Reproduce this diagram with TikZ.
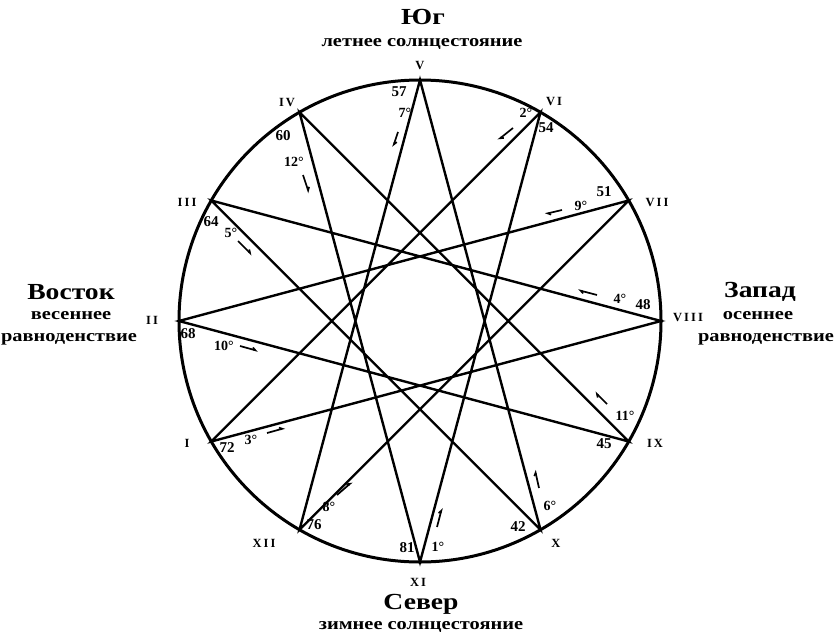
\documentclass[tikz,border=0pt]{standalone}
\usepackage{fontspec}
\setmainfont{Liberation Serif}
\newfontfamily\lblfont[FakeStretch=1.2]{Liberation Serif}
\usetikzlibrary{arrows.meta,calc}
\begin{document}
\begin{tikzpicture}[x=1pt,y=-1pt,
  star/.style={line width=2.4pt, line join=miter},
  rim/.style={line width=3pt},
  roman/.style={font=\fontsize{12.5}{12.5}\selectfont\bfseries, inner sep=0pt},
  num/.style={font=\fontsize{15}{15}\selectfont\bfseries, inner sep=0pt},
  deg/.style={font=\fontsize{14}{14}\selectfont\bfseries, inner sep=0pt},
  head/.style={font=\lblfont\fontsize{23}{23}\selectfont\bfseries, inner sep=0pt},
  sub/.style={font=\lblfont\fontsize{17}{17}\selectfont\bfseries, inner sep=0pt},
  harp/.style={line width=1.7pt, -{Straight Barb[left,length=3pt,width=4pt]}}]
\useasboundingbox (0,0) rectangle (837,637);
\coordinate (c) at (420,321);
\draw[rim] (c) circle[radius=241];
\foreach \n/\a in {V/-90, VI/-60, VII/-30, VIII/0, IX/30, X/60, XI/90, XII/120, I/150, II/180, III/210, IV/240}
  \coordinate (p\n) at ($(c)+(\a:241)$);
\draw[star] (pXI) -- (pVI) -- (pI) -- (pVIII) -- (pIII) -- (pX) -- (pV) -- (pXII) -- (pVII) -- (pII) -- (pIX) -- (pIV) -- cycle;

% roman numerals
\node[roman] (rV) at (420,66) {V};
\node[roman] (rVI) at (554,102) {V\,I};
\node[roman] (rVII) at (657,202) {V\,I\,I};
\node[roman] (rVIII) at (688,317) {V\,I\,I\,I};
\node[roman] (rIX) at (655,443) {I\,X};
\node[roman] (rX) at (556,543) {X};
\node[roman] (rXI) at (418,582) {X\,I};
\node[roman] (rXII) at (264,543) {X\,I\,I};
\node[roman] (rI) at (187,443) {I};
\node[roman] (rII) at (152,320) {I\,I};
\node[roman] (rIII) at (187,202) {I\,I\,I};
\node[roman] (rIV) at (287,103) {I\,V};

% numbers
\node[num] (nV) at (399,92) {57};
\node[num] (nVI) at (546,128) {54};
\node[num] (nVII) at (604,192) {51};
\node[num] (nVIII) at (643,305) {48};
\node[num] (nIX) at (604,444) {45};
\node[num] (nX) at (518,527) {42};
\node[num] (nXI) at (407,548) {81};
\node[num] (nXII) at (314,525) {76};
\node[num] (nI) at (227,448) {72};
\node[num] (nII) at (188,334) {68};
\node[num] (nIII) at (211,222) {64};
\node[num] (nIV) at (283,136) {60};

% degrees
\node[deg] (d1) at (438,547) {1°};
\node[deg] (d2) at (526,113) {2°};
\node[deg] (d3) at (251,440) {3°};
\node[deg] (d4) at (620,299) {4°};
\node[deg] (d5) at (231,233) {5°};
\node[deg] (d6) at (550,506) {6°};
\node[deg] (d7) at (405,113) {7°};
\node[deg] (d8) at (329,507) {8°};
\node[deg] (d9) at (581,206) {9°};
\node[deg] (d10) at (224,346) {10°};
\node[deg] (d11) at (625,416) {11°};
\node[deg] (d12) at (294,162) {12°};

% direction marks
\draw[harp] (437,527) -- (442,508);
\draw[harp] (513,128) -- (498,140);
\draw[harp] (267,433) -- (285,428);
\draw[harp] (597,295) -- (578,290);
\draw[harp] (238,241) -- (252,255);
\draw[harp] (539,488) -- (535,470);
\draw[harp] (398,132) -- (393,147);
\draw[harp] (337,495) -- (352,482);
\draw[harp] (562,210) -- (545,214);
\draw[harp] (240,346) -- (258,351);
\draw[harp] (607,404) -- (595,392);
\draw[harp] (303,175) -- (309,193);

% headings
\node[head] (yug) at (423,17) {Юг};
\node[sub] (yugs) at (422,44) {летнее солнцестояние};
\node[head] (sever) at (421,604) {Север};
\node[sub] (severs) at (421,627) {зимнее солнцестояние};
\node[head] (vost) at (71,292) {Восток};
\node[sub] (vost2) at (71,316) {весеннее};
\node[sub] (vost3) at (69,339) {равноденствие};
\node[head] (zap) at (760,292) {Запад};
\node[sub] (zap2) at (758,316) {осеннее};
\node[sub] (zap3) at (766,339) {равноденствие};
\end{tikzpicture}
\end{document}
